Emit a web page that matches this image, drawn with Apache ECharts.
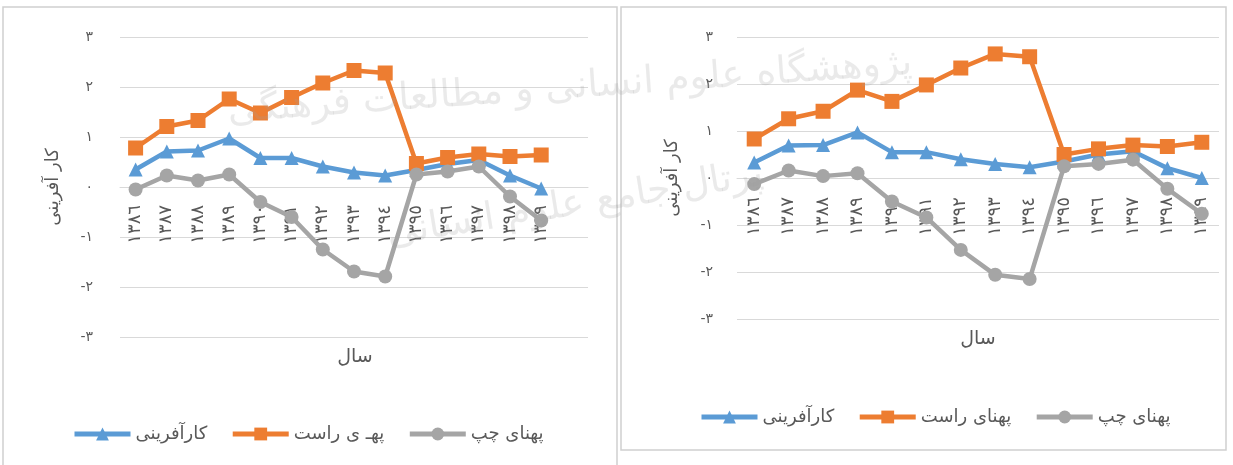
<!DOCTYPE html>
<html><head><meta charset="utf-8">
<script src="https://cdn.jsdelivr.net/npm/echarts@6/dist/echarts.min.js"></script>
<style>html,body{margin:0;padding:0;background:#fff}#c{width:1233px;height:465px}</style>
</head><body><div id="c"></div>
<script>
// ---- data ----
const years = ['١٣٨٦','١٣٨٧','١٣٨٨','١٣٨٩','١٣٩٠','١٣٩١','١٣٩٢','١٣٩٣','١٣٩٤','١٣٩٥','١٣٩٦','١٣٩٧','١٣٩٨','١٣٩٩'];
const categoriesLeft = years.concat(['']);
const categoriesRight = years;
const yTickValues = [-3, -2, -1, 0, 1, 2, 3];
const yTickLabels = ['-٣', '-٢', '-١', '٠', '١', '٢', '٣'];

const seriesNames = { blue: 'کارآفرینی', orangeLeft: 'پهـ ی راست', orangeRight: 'پهنای راست', gray: 'پهنای چپ' };
const yAxisTitle = 'کار آفرینی';
const xAxisTitle = 'سال';
const watermarkLines = ['پژوهشگاه علوم انسانی و مطالعات فرهنگی', 'پرتال جامع علوم انسانی'];

const leftKarafarini = [0.35, 0.71, 0.73, 0.97, 0.58, 0.58, 0.41, 0.29, 0.23, 0.34, 0.46, 0.54, 0.23, -0.03];
const leftRight      = [0.78, 1.21, 1.33, 1.76, 1.48, 1.79, 2.08, 2.33, 2.28, 0.47, 0.59, 0.66, 0.61, 0.64];
const leftLeft       = [-0.05, 0.23, 0.13, 0.25, -0.30, -0.60, -1.25, -1.69, -1.79, 0.25, 0.31, 0.41, -0.19, -0.67];

const rightKarafarini = [0.33, 0.69, 0.70, 0.97, 0.55, 0.55, 0.40, 0.30, 0.23, 0.35, 0.50, 0.57, 0.21, 0.00];
const rightRight      = [0.83, 1.26, 1.42, 1.87, 1.63, 1.98, 2.34, 2.64, 2.58, 0.50, 0.62, 0.70, 0.67, 0.76];
const rightLeft       = [-0.13, 0.16, 0.04, 0.10, -0.50, -0.84, -1.53, -2.06, -2.15, 0.25, 0.30, 0.39, -0.23, -0.76];

// ---- style ----
const FONT = '"DejaVu Sans", "Liberation Sans", sans-serif';
const TXT = '#595959';
const GRIDC = '#D9D9D9';
const BLUE = '#5B9BD5', ORANGE = '#ED7D31', GRAY = '#A5A5A5';

function yLabel(v) { const i = yTickValues.indexOf(v); return i >= 0 ? yTickLabels[i] : ''; }

function xAxisDef(idx, cats, zeroOffset, margin) {
  return {
    type: 'category', gridIndex: idx, data: cats, boundaryGap: true,
    position: 'bottom', offset: -zeroOffset,
    axisLine: { show: true, onZero: false, lineStyle: { color: GRIDC, width: 1 } },
    axisTick: { show: false },
    axisLabel: { rotate: 90, margin: margin, fontSize: 18, color: TXT, fontFamily: FONT, interval: 0 },
    splitLine: { show: false }
  };
}
function yAxisDef(idx, margin, gap) {
  return {
    type: 'value', gridIndex: idx, min: -3, max: 3, interval: 1,
    axisLine: { show: false }, axisTick: { show: false },
    axisLabel: { margin: margin, fontSize: 14, color: TXT, fontFamily: FONT, formatter: yLabel },
    splitLine: { lineStyle: { color: GRIDC, width: 1 } },
    name: yAxisTitle, nameLocation: 'middle', nameRotate: 90, nameGap: gap,
    nameTextStyle: { fontSize: 18, color: TXT, fontFamily: FONT }
  };
}
function line(name, data, color, symbol, size, axisIdx) {
  return {
    type: 'line', name: name, data: data, xAxisIndex: axisIdx, yAxisIndex: axisIdx,
    symbol: symbol, symbolSize: size, showAllSymbol: true,
    lineStyle: { color: color, width: 4.5 }, itemStyle: { color: color, borderWidth: 0 },
    emphasis: { disabled: true }, animation: false, z: 3
  };
}
function legendDef(names, left, top) {
  return {
    data: names, left: left, top: top,
    itemWidth: 56, itemHeight: 16, itemGap: 23, align: 'left', selectedMode: false,
    lineStyle: { width: 5 },
    textStyle: { fontSize: 18, color: TXT, fontFamily: FONT }
  };
}

const chart = echarts.init(document.getElementById('c'), null, { renderer: 'canvas' });
chart.setOption({
  backgroundColor: '#fff',
  animation: false,
  grid: [
    { left: 120, top: 37, width: 468, height: 300, containLabel: false },
    { left: 737, top: 37, width: 482, height: 282, containLabel: false }
  ],
  xAxis: [xAxisDef(0, categoriesLeft, 150, 18), xAxisDef(1, categoriesRight, 141, 19)],
  yAxis: [yAxisDef(0, 27, 58), yAxisDef(1, 24, 56)],
  legend: [
    legendDef([seriesNames.blue, seriesNames.orangeLeft, seriesNames.gray], 67, 420),
    legendDef([seriesNames.blue, seriesNames.orangeRight, seriesNames.gray], 694, 403)
  ],
  graphic: [
    { type: 'rect', shape: { x: 3, y: 7, width: 614, height: 470 }, style: { fill: 'none', stroke: '#D0D0D0', lineWidth: 1.5 }, z: -1 },
    { type: 'rect', shape: { x: 621, y: 7, width: 605, height: 443 }, style: { fill: 'none', stroke: '#D0D0D0', lineWidth: 1.5 }, z: -1 },
    { type: 'text', x: 355, y: 357, style: { text: xAxisTitle, align: 'center', verticalAlign: 'middle', font: '19px ' + FONT, fill: TXT } },
    { type: 'text', x: 978, y: 339, style: { text: xAxisTitle, align: 'center', verticalAlign: 'middle', font: '19px ' + FONT, fill: TXT } },
    { type: 'text', x: 570, y: 88, rotation: 0.07, z: 100, silent: true,
      style: { text: watermarkLines[0], align: 'center', verticalAlign: 'middle', font: '38px ' + FONT, fill: 'rgba(160,160,160,0.22)' } },
    { type: 'text', x: 575, y: 205, rotation: 0.16, z: 100, silent: true,
      style: { text: watermarkLines[1], align: 'center', verticalAlign: 'middle', font: '38px ' + FONT, fill: 'rgba(160,160,160,0.22)' } }
  ],
  series: [
    line(seriesNames.blue, leftKarafarini, BLUE, 'triangle', 14, 0),
    line(seriesNames.orangeLeft, leftRight, ORANGE, 'rect', 15, 0),
    line(seriesNames.gray, leftLeft, GRAY, 'circle', 14, 0),
    line(seriesNames.blue, rightKarafarini, BLUE, 'triangle', 14, 1),
    line(seriesNames.orangeRight, rightRight, ORANGE, 'rect', 15, 1),
    line(seriesNames.gray, rightLeft, GRAY, 'circle', 14, 1)
  ]
});
</script></body></html>
